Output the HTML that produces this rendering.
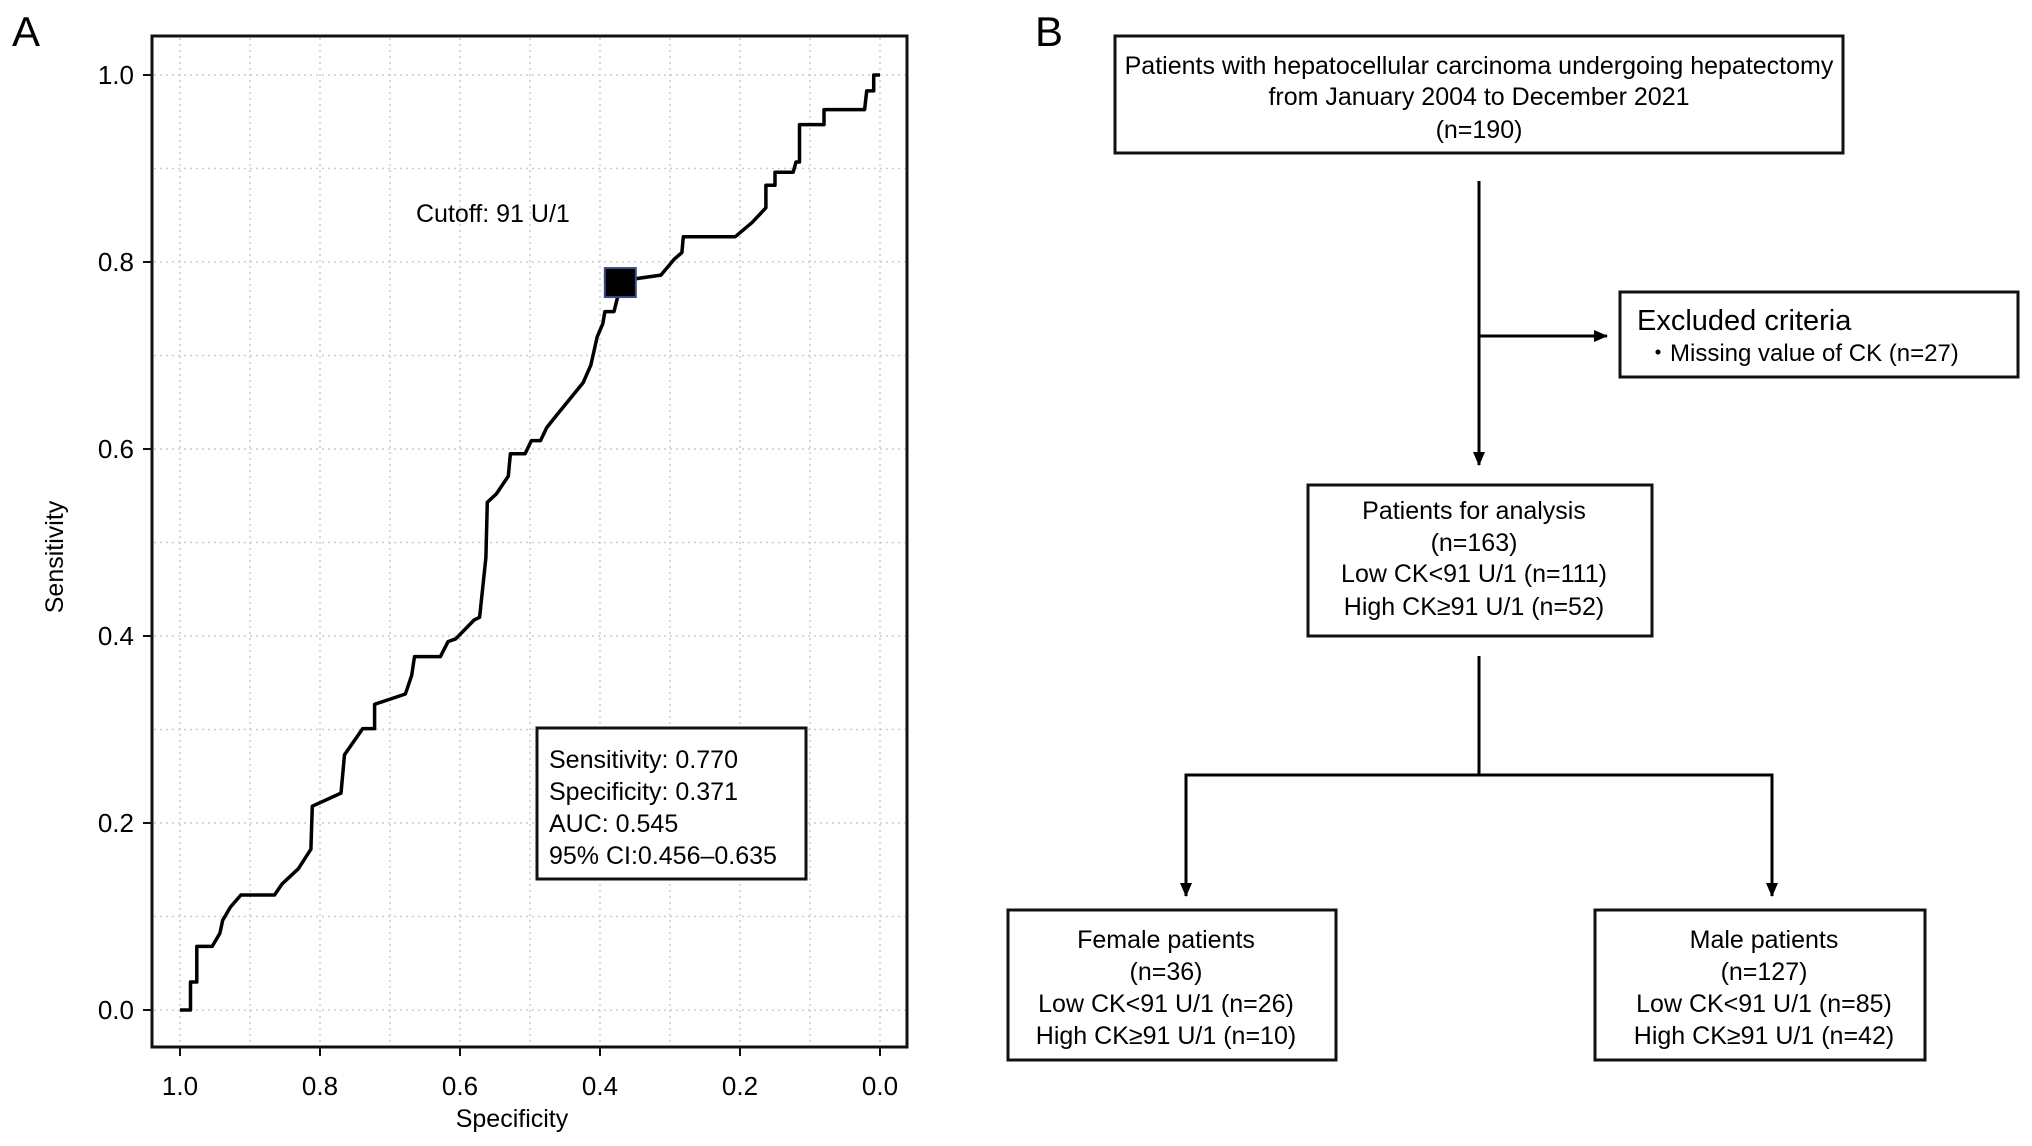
<!DOCTYPE html>
<html><head><meta charset="utf-8"><style>
html,body{margin:0;padding:0;background:#fff;}
svg{display:block;font-family:"Liberation Sans",sans-serif;}
</style></head><body>
<svg id="fig" width="2032" height="1146" viewBox="0 0 2032 1146" xmlns="http://www.w3.org/2000/svg">
<text x="12" y="46" font-size="42">A</text>
<g id="grid"></g>
<rect x="152" y="36" width="755" height="1011" fill="none" stroke="#111" stroke-width="3"/>
<g id="axes"></g>
<text x="0" y="0" transform="translate(63,557) rotate(-90)" font-size="25" text-anchor="middle">Sensitivity</text>
<text x="512" y="1127" font-size="25" text-anchor="middle">Specificity</text>
<path id="roc" fill="none" stroke="#000" stroke-width="3.5" stroke-linejoin="round"/>
<rect id="cut" width="31" height="29" fill="#000" stroke="#3a4a8a" stroke-width="2"/>
<text x="416" y="222" font-size="25">Cutoff: 91 U/1</text>
<g>
<rect x="537" y="728" width="269" height="151" fill="#fff" stroke="#111" stroke-width="3"/>
<text x="549" y="768" font-size="25">Sensitivity: 0.770</text>
<text x="549" y="800" font-size="25">Specificity: 0.371</text>
<text x="549" y="832" font-size="25">AUC: 0.545</text>
<text x="549" y="864" font-size="25">95% CI:0.456–0.635</text>
</g>

<text x="1035" y="46" font-size="42">B</text>
<defs>
<marker id="ar2" markerWidth="14" markerHeight="14" refX="13" refY="7" orient="auto" markerUnits="userSpaceOnUse"><path d="M0,1 L14,7 L0,13 z" fill="#000"/></marker></defs>
<g stroke="#000" stroke-width="3" fill="none">
<line x1="1479" y1="181" x2="1479" y2="465" marker-end="url(#ar2)"/>
<line x1="1479" y1="336" x2="1607" y2="336" marker-end="url(#ar2)"/>
<line x1="1479" y1="656" x2="1479" y2="775"/>
<polyline points="1186,894 1186,775 1772,775 1772,894"/>
<line x1="1186" y1="860" x2="1186" y2="896" marker-end="url(#ar2)"/>
<line x1="1772" y1="860" x2="1772" y2="896" marker-end="url(#ar2)"/>
</g>
<g font-size="25" text-anchor="middle">
<g>
<rect x="1115" y="36" width="728" height="117" fill="#fff" stroke="#111" stroke-width="3"/>
<text x="1479" y="74">Patients with hepatocellular carcinoma undergoing hepatectomy</text>
<text x="1479" y="105">from January 2004 to December 2021</text>
<text x="1479" y="138">(n=190)</text>
</g>
<g>
<rect x="1620" y="292" width="398" height="85" fill="#fff" stroke="#111" stroke-width="3"/>
<text x="1637" y="330" font-size="29" text-anchor="start">Excluded criteria</text>
<text x="1646" y="361" font-size="24" text-anchor="start">・Missing value of CK (n=27)</text>
</g>
<g>
<rect x="1308" y="485" width="344" height="151" fill="#fff" stroke="#111" stroke-width="3"/>
<text x="1474" y="519">Patients for analysis</text>
<text x="1474" y="551">(n=163)</text>
<text x="1474" y="582">Low CK&lt;91 U/1 (n=111)</text>
<text x="1474" y="615">High CK≥91 U/1 (n=52)</text>
</g>
<g>
<rect x="1008" y="910" width="328" height="150" fill="#fff" stroke="#111" stroke-width="3"/>
<text x="1166" y="948">Female patients</text>
<text x="1166" y="980">(n=36)</text>
<text x="1166" y="1012">Low CK&lt;91 U/1 (n=26)</text>
<text x="1166" y="1044">High CK≥91 U/1 (n=10)</text>
</g>
<g>
<rect x="1595" y="910" width="330" height="150" fill="#fff" stroke="#111" stroke-width="3"/>
<text x="1764" y="948">Male patients</text>
<text x="1764" y="980">(n=127)</text>
<text x="1764" y="1012">Low CK&lt;91 U/1 (n=85)</text>
<text x="1764" y="1044">High CK≥91 U/1 (n=42)</text>
</g>
</g>
</svg>
<script>
const specificity=[1,.985,.985,.976,.976,.954,.943,.939,.928,.913,.865,.854,.831,.813,.811,.770,.765,.739,.722,.722,.678,.669,.665,.628,.617,.606,.580,.572,.563,.561,.548,.531,.528,.507,.498,.485,.476,.461,.424,.413,.404,.396,.393,.380,.369,.313,.294,.283,.281,.207,.183,.163,.163,.150,.150,.124,.120,.115,.115,.080,.080,.022,.019,.009,.009,0];
const sensitivity=[0,0,.03,.03,.068,.068,.082,.096,.11,.123,.123,.135,.151,.172,.218,.232,.273,.301,.301,.327,.338,.358,.378,.378,.394,.397,.417,.42,.484,.543,.552,.571,.595,.595,.609,.609,.623,.637,.671,.69,.72,.734,.747,.747,.78,.786,.803,.81,.827,.827,.842,.858,.882,.882,.896,.896,.907,.907,.947,.947,.963,.963,.983,.983,1,1];
const xTicks=["1.0","0.8","0.6","0.4","0.2","0.0"];
const yTicks=["0.0","0.2","0.4","0.6","0.8","1.0"];
const cutoffSpec=[0.371];
const cutoffSens=[0.770];
const NS="http://www.w3.org/2000/svg";
const X=s=>180+(1-s)*700;
const Y=v=>1010-v*935;
const grid=document.getElementById('grid'),axes=document.getElementById('axes');
for(let i=0;i<=10;i++){
  const v=i/10;
  const gx=document.createElementNS(NS,'line');
  
  
  gx.setAttribute('x1',X(v));gx.setAttribute('x2',X(v));gx.setAttribute('y1',38);gx.setAttribute('y2',1045);
  gx.setAttribute('stroke','#ccc');gx.setAttribute('stroke-dasharray','2 4');gx.setAttribute('stroke-width','1.5');
  grid.appendChild(gx);
  const gy=document.createElementNS(NS,'line');
  
  
  gy.setAttribute('y1',Y(v));gy.setAttribute('y2',Y(v));gy.setAttribute('x1',154);gy.setAttribute('x2',905);
  gy.setAttribute('stroke','#ccc');gy.setAttribute('stroke-dasharray','2 4');gy.setAttribute('stroke-width','1.5');
  grid.appendChild(gy);
}
xTicks.forEach(t=>{
  const v=parseFloat(t),x=X(v);
  const l=document.createElementNS(NS,'line');
  
  
  l.setAttribute('x1',x);l.setAttribute('x2',x);l.setAttribute('y1',1047);l.setAttribute('y2',1056);l.setAttribute('stroke','#111');l.setAttribute('stroke-width','2');
  axes.appendChild(l);
  const tx=document.createElementNS(NS,'text');
  
  
  tx.setAttribute('x',x);tx.setAttribute('y',1095);tx.setAttribute('font-size','26');tx.setAttribute('text-anchor','middle');tx.textContent=t;
  axes.appendChild(tx);
});
yTicks.forEach(t=>{
  const v=parseFloat(t),y=Y(v);
  const l=document.createElementNS(NS,'line');
  
  
  l.setAttribute('x1',143);l.setAttribute('x2',152);l.setAttribute('y1',y);l.setAttribute('y2',y);l.setAttribute('stroke','#111');l.setAttribute('stroke-width','2');
  axes.appendChild(l);
  const tx=document.createElementNS(NS,'text');
  
  
  tx.setAttribute('x',134);tx.setAttribute('y',y+9);tx.setAttribute('font-size','26');tx.setAttribute('text-anchor','end');tx.textContent=t;
  axes.appendChild(tx);
});
let d='';
specificity.forEach((s,i)=>{d+=(i?'L':'M')+X(s).toFixed(1)+','+Y(sensitivity[i]).toFixed(1);});
document.getElementById('roc').setAttribute('d',d);
const c=document.getElementById('cut');
c.setAttribute('x',X(cutoffSpec[0])-15.5);c.setAttribute('y',Y(cutoffSens[0])-22);
</script>
</body></html>
